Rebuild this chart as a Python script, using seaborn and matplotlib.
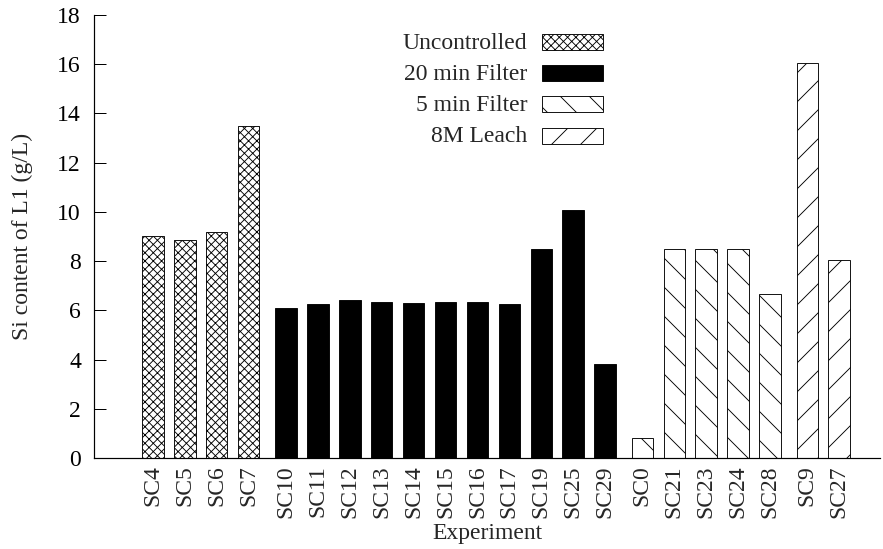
import numpy as np
import pandas as pd
import matplotlib
matplotlib.use("Agg")
import matplotlib.pyplot as plt
from matplotlib.patches import Rectangle
import seaborn as sns

# Si content of the first leachate, grouped by process condition
uncontrolled_labels = ["SC4", "SC5", "SC6", "SC7"]
uncontrolled_values = [9.02, 8.84, 9.17, 13.48]

filter20_labels = ["SC10", "SC11", "SC12", "SC13", "SC14", "SC15",
                   "SC16", "SC17", "SC19", "SC25", "SC29"]
filter20_values = [6.10, 6.26, 6.41, 6.33, 6.29, 6.33,
                   6.33, 6.25, 8.50, 10.07, 3.81]

filter5_labels = ["SC0", "SC21", "SC23", "SC24", "SC28"]
filter5_values = [0.83, 8.51, 8.51, 8.51, 6.67]

leach8m_labels = ["SC9", "SC27"]
leach8m_values = [16.06, 8.05]

group_names = ["Uncontrolled", "20 min Filter", "5 min Filter", "8M Leach"]

DPI = 174
W, H = 883, 549
px = 72.0 / DPI          # one pixel in points
FS = 9.8

sns.set_theme(style="ticks")
plt.rcParams["font.family"] = ["Liberation Serif", "DejaVu Serif"]
plt.rcParams["hatch.linewidth"] = 0.9 * px

# bar styles per group
styles = {
    "Uncontrolled": dict(color="white", hatch="xxxxxxx"),
    "20 min Filter": dict(color="black", hatch=None),
    "5 min Filter": dict(color="white", hatch="\\\\"),
    "8M Leach": dict(color="white", hatch="//"),
}

groups = [
    ("Uncontrolled", uncontrolled_labels, uncontrolled_values),
    ("20 min Filter", filter20_labels, filter20_values),
    ("5 min Filter", filter5_labels, filter5_values),
    ("8M Leach", leach8m_labels, leach8m_values),
]

# bar positions: unit spacing inside a group, a slightly wider step between groups
group_step = 1.17
rows = []
pos = 0.0
for gi, (name, labels, values) in enumerate(groups):
    if gi > 0:
        pos += group_step - 1.0
    for lab, val in zip(labels, values):
        rows.append(dict(pos=pos, label=lab, value=val, group=name))
        pos += 1.0
df = pd.DataFrame(rows)

fig = plt.figure(figsize=(W / DPI, H / DPI), dpi=DPI)
ax = fig.add_axes([94 / W, 1 - 458 / H, (880 - 94) / W, (458 - 15) / H])

for name in group_names:
    sub = df[df["group"] == name]
    st = styles[name]
    sns.barplot(data=sub, x="pos", y="value", native_scale=True, width=0.67,
                color=st["color"], saturation=1, errorbar=None,
                edgecolor="black", linewidth=0.9 * px, ax=ax)
    for bar in ax.containers[-1]:
        bar.set_facecolor(st["color"])
        bar.set_edgecolor("black")
        if st["hatch"]:
            bar.set_hatch(st["hatch"])

ax.set_xlim(-1.85, 22.79)
ax.set_ylim(0, 18)
ax.set_yticks(np.arange(0, 19, 2))
ax.set_xticks(df["pos"])
ax.set_xticklabels(df["label"], rotation=90, fontsize=FS)
ax.tick_params(axis="x", length=0, pad=3)
ax.tick_params(axis="y", direction="in", length=12 * px, width=1.0 * px,
               pad=13 * px, labelsize=FS, colors="black")
for s in ["top", "right"]:
    ax.spines[s].set_visible(False)
for s in ["left", "bottom"]:
    ax.spines[s].set_linewidth(1.2 * px)
    ax.spines[s].set_color("black")

ax.set_xlabel("Experiment", fontsize=FS, labelpad=2)
ax.set_ylabel("Si content of L1 (g/L)", fontsize=FS, labelpad=10)

# key: text right-aligned, sample swatch to its right
key_y = [42.3, 73.3, 104.4, 135.5]
for name, yc in zip(group_names, key_y):
    st = styles[name]
    rect = Rectangle((542 / W, 1 - (yc + 8) / H), 61 / W, 16 / H,
                     transform=fig.transFigure, facecolor=st["color"],
                     edgecolor="black", linewidth=0.9 * px,
                     hatch=st["hatch"])
    fig.patches.append(rect)
    fig.text(527 / W, 1 - (yc + 1.5) / H, name, ha="right", va="center",
             fontsize=FS)

fig.savefig("out.png", dpi=DPI)
